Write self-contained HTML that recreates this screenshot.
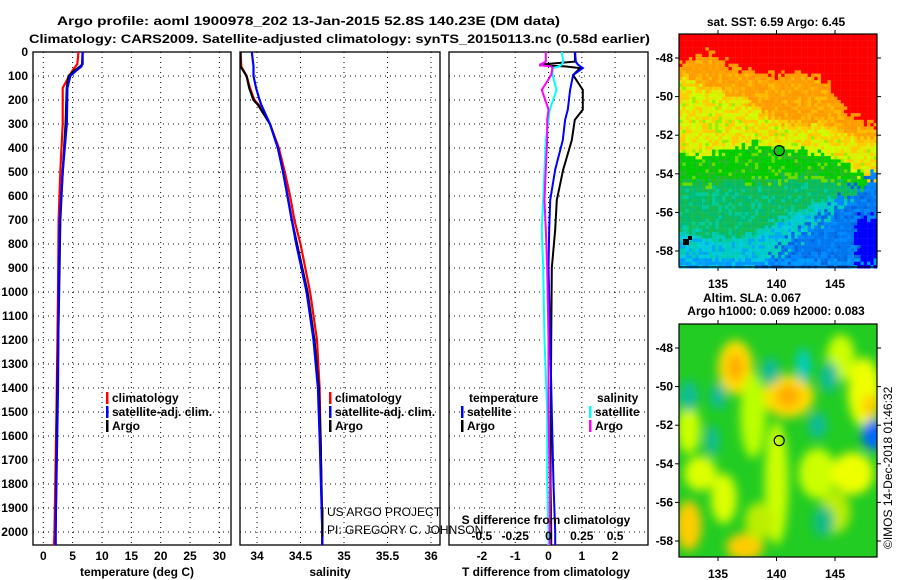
<!DOCTYPE html>
<html><head><meta charset="utf-8"><style>
html,body{margin:0;padding:0;background:#fff;}
svg{display:block;font-family:"Liberation Sans",sans-serif;}
.b{font-weight:bold;font-size:12px;}
</style></head><body>
<svg id="s" width="900" height="580" viewBox="0 0 900 580" xmlns="http://www.w3.org/2000/svg">
<defs>
<filter id="blur" x="-50%" y="-50%" width="200%" height="200%"><feGaussianBlur stdDeviation="5"/></filter>
<clipPath id="clipMap2"><rect x="679" y="324" width="198" height="233"/></clipPath>
<clipPath id="clipP1"><rect x="33" y="52" width="198" height="493"/></clipPath>
<clipPath id="clipP2"><rect x="240" y="52" width="200" height="493"/></clipPath>
<clipPath id="clipP3"><rect x="449" y="52" width="199" height="493"/></clipPath>
</defs>
<text x="57" y="25" class="b" font-size="14" textLength="503" lengthAdjust="spacingAndGlyphs">Argo profile: aoml 1900978_202 13-Jan-2015 52.8S 140.23E (DM data)</text>
<text x="29" y="43" class="b" font-size="14" textLength="621" lengthAdjust="spacingAndGlyphs">Climatology: CARS2009. Satellite-adjusted climatology: synTS_20150113.nc (0.58d earlier)</text>
<g id="g"></g>
</svg>
<script>
// ---- data ----
const depthT = [0,50,60,80,100,150,300,500,700,1000,1400,2000,2054];
const tempArgo = [6.7,6.7,6.3,5.2,4.3,4.0,3.8,3.3,2.9,2.7,2.4,2.1,2.1];
const tempClim = [6.0,5.8,5.5,4.9,4.4,3.3,3.3,2.9,2.6,2.5,2.3,1.9,1.8];
const tempSat  = [6.7,6.6,6.5,5.5,4.6,4.1,4.0,3.3,2.8,2.6,2.5,2.1,2.1];
const depthS = [0,60,100,150,200,220,300,400,500,600,700,800,1000,1200,1400,1600,2000,2054];
const salArgo = [33.81,33.81,33.88,33.91,33.96,34.01,34.15,34.24,34.30,34.35,34.40,34.46,34.58,34.66,34.71,34.73,34.75,34.75];
const salClim = [33.81,33.82,33.88,33.92,33.97,34.02,34.15,34.25,34.32,34.38,34.43,34.50,34.61,34.69,34.72,34.73,34.75,34.75];
const salSat  = [33.94,33.96,33.96,33.99,34.03,34.05,34.15,34.24,34.30,34.35,34.40,34.45,34.57,34.65,34.70,34.72,34.75,34.75];
const depthD = [0,40,52,56,60,67,96,158,240,283,367,490,617,740,900,1200,1500,1800,2000,2054];
const dTArgo = [0.79,0.80,-0.25,-0.25,0.5,0.95,0.74,1.03,1.03,0.79,0.70,0.44,0.25,0.20,0.10,0.08,0.07,0.06,0.08,0.08];
const dTSat  = [0.80,0.82,0.88,0.92,0.95,1.03,0.74,0.65,0.58,0.50,0.43,0.20,0.05,0.02,0.0,0.05,0.10,0.15,0.20,0.20];
const dSSat  = [0.10,0.11,0.10,0.09,0.08,0.03,0.03,0.06,0.01,0.0,-0.02,-0.03,-0.04,-0.05,-0.04,-0.03,-0.01,-0.01,0.0,0.0];
const dSArgo = [-0.02,-0.02,-0.06,-0.06,0.02,0.03,0.02,-0.05,0.0,-0.01,-0.01,-0.02,-0.03,-0.02,-0.01,0.0,0.0,0.01,0.01,0.01];
const depthTicks = [0,100,200,300,400,500,600,700,800,900,1000,1100,1200,1300,1400,1500,1600,1700,1800,1900,2000];
const tTicks = [0,5,10,15,20,25,30];
const sTicks = [34,34.5,35,35.5,36];
const sTickLabels = ["34","34.5","35","35.5","36"];
const dTTicks = [-2,-1,0,1,2];
const dSTicks = [-0.5,-0.25,0,0.25,0.5];
const lonTicks = [135,140,145];
const latTicks = [-48,-50,-52,-54,-56,-58];
const floatLon = 140.23, floatLat = -52.8;

// ---- axes ----
const yD = d => 52 + d*0.24;
const xT = t => 43.3 + t*5.87;
const xS = s => 257 + (s-34)*87;
const xdT = v => 548.5 + v*33.3;
const xdS = v => 548.5 + v*133.2;
const lonX = l => 718 + (l-135)*11.7;
const latY1 = l => 58 + (-48-l)*19.3;
const latY2 = l => 348 + (-48-l)*19.3;

const NS="http://www.w3.org/2000/svg";
const G=document.getElementById('g');
function mk(tag,attrs,parent){const e=document.createElementNS(NS,tag);for(const k in attrs)e.setAttribute(k,attrs[k]);(parent||G).appendChild(e);return e;}
function txt(x,y,s,anchor,parent,cls){const e=mk('text',{x:x,y:y,'text-anchor':anchor||'start',class:cls||'b'},parent);e.textContent=s;return e;}

function panel(name,x0,x1,xs,ticks,labels,xlabel,xlabelX){
  const g=mk('g',{});
  
  
  depthTicks.forEach(d=>{mk('line',{x1:x0,x2:x1,y1:yD(d),y2:yD(d),stroke:'#000','stroke-width':1,'stroke-dasharray':'1,4'},g);});
  ticks.forEach((t,i)=>{
    mk('line',{x1:xs(t),x2:xs(t),y1:52,y2:545,stroke:'#000','stroke-width':1,'stroke-dasharray':'1,4'},g);
    if(labels){const e=txt(xs(t),560,labels[i],'middle',g);}
  });
  mk('rect',{x:x0,y:52,width:x1-x0,height:493,fill:'none',stroke:'#000','stroke-width':1.3},g);
  const xl=txt(xlabelX,576,xlabel,'middle',g);
  
  
  return g;
}
const p1=panel('temperature-panel',33,231,xT,tTicks,tTicks.map(String),'temperature (deg C)',137);
const p2=panel('salinity-panel',240,440,xS,sTicks,sTickLabels,'salinity',330);
const p3=panel('difference-panel',449,648,xdT,dTTicks,dTTicks.map(String),'T difference from climatology',546);
depthTicks.forEach(d=>{const e=txt(28,yD(d)+4,String(d),'end');
  
  });
dSTicks.forEach(v=>{const e=txt(xdS(v),540,String(v),'middle');
  
  });
const sdt=txt(546,524,'S difference from climatology','middle');



function line(par,clip,xs,vals,depths,color,name,w){
  const pts=vals.map((v,i)=>xs(v).toFixed(1)+','+yD(depths[i]).toFixed(1)).join(' ');
  const e=mk('polyline',{points:pts,fill:'none',stroke:color,'stroke-width':w||2.2,'clip-path':'url(#'+clip+')'},par);
  
  
}
line(p1,'clipP1',xT,tempClim,depthT,'#ff0000','temp-climatology-line');
line(p1,'clipP1',xT,tempArgo,depthT,'#000000','temp-argo-line');
line(p1,'clipP1',xT,tempSat,depthT,'#0000ff','temp-satellite-line');
line(p2,'clipP2',xS,salClim,depthS,'#ff0000','sal-climatology-line');
line(p2,'clipP2',xS,salArgo,depthS,'#000000','sal-argo-line');
line(p2,'clipP2',xS,salSat,depthS,'#0000ff','sal-satellite-line');
line(p3,'clipP3',xdT,dTArgo,depthD,'#000000','dt-argo-line',2);
line(p3,'clipP3',xdT,dTSat,depthD,'#0000ff','dt-satellite-line',2);
line(p3,'clipP3',xdS,dSSat,depthD,'#00ffff','ds-satellite-line',2);
line(p3,'clipP3',xdS,dSArgo,depthD,'#ff00ff','ds-argo-line',2);

function legend(x,y,items){
  items.forEach((it,i)=>{
    const yy=y+i*14;
    if(it[1]) mk('rect',{x:x,y:yy-10,width:2.5,height:12,fill:it[1]});
    const e=txt(x+(it[1]?6:8),yy,it[0],'start');
    
    
  });
}
legend(106,402,[['climatology','#ff0000'],['satellite-adj. clim.','#0000ff'],['Argo','#000']]);
legend(329,402,[['climatology','#ff0000'],['satellite-adj. clim.','#0000ff'],['Argo','#000']]);
legend(461,402,[['temperature',null],['satellite','#0000ff'],['Argo','#000']]);
legend(589,402,[['salinity',null],['satellite','#00ffff'],['Argo','#ff00ff']]);
[['US ARGO PROJECT',516],['PI: GREGORY C. JOHNSON',534]].forEach(a=>{
  const e=mk('text',{x:327,y:a[1],'font-size':12,fill:'#000'});e.textContent=a[0];
  
  
});
mk('rect',{x:322,y:507,width:1.5,height:30,fill:'#000'});

// ---- SST map ----
function interp(arr,lon){const L=[132,134,136,138,140,142,144,146,148.6];
  if(lon<=L[0])return arr[0];for(let i=1;i<L.length;i++){if(lon<=L[i]){const f=(lon-L[i-1])/(L[i]-L[i-1]);return arr[i-1]+f*(arr[i]-arr[i-1]);}}return arr[arr.length-1];}
const redB=[-48.2,-47.7,-48.3,-48.8,-48.9,-48.6,-49,-50.8,-51.5];
const orB=[-49,-49.5,-49.8,-50.5,-51.3,-51.5,-51.5,-52,-52.3];
const yeB=[-53,-53,-52.8,-52.5,-52.7,-52.8,-53,-53.5,-55];
const grB=[-54.5,-54.5,-54.3,-54.5,-54.3,-54.2,-54.3,-54.5,-55.3];
const teB=[-57,-57.3,-57.5,-57.2,-56.5,-56,-55.5,-55.4,-55.4];
function hash(i,j){let h=(i*374761393+j*668265263)^0x5bd1e995;h=(h^(h>>>13))*1274126177;h=h^(h>>>16);return ((h>>>0)%1000)/1000;}
const m1=mk('g',{});


const cs=3.3;
for(let i=0;i<60;i++){for(let j=0;j<71;j++){
  const x=679+i*cs, y=34+j*cs;
  const lon=135+(x+cs/2-718)/11.7, lat=-48-(y+cs/2-58)/19.3;
  const r=hash(i,j), n=(r-0.5)*0.6;
  let c;
  if(lat+n>interp(redB,lon)) c='#ff0000';
  else if(lat+n>interp(orB,lon)) c=r<0.5?'#ff9900':(r<0.8?'#ffa500':'#ffbb00');
  else if(lat+n>interp(yeB,lon)) c=r<0.35?'#ffcc00':(r<0.7?'#ddee00':(r<0.9?'#ccff00':'#99ee00'));
  else if(lat+n>interp(grB,lon)) c=r<0.6?'#00cc00':(r<0.85?'#22bb22':'#66dd00');
  else if(lat+n>interp(teB,lon)) c=r<0.5?'#11bb55':(r<0.8?'#00bb77':'#00cc99');
  else c=r<0.4?'#00ccbb':(r<0.7?'#00ccdd':'#00aaee');
  const bx=(lon-144.5)*0.5-(lat+55.3)+n*2;
  if(bx>0.6) c=r<0.5?'#0077ee':(r<0.8?'#0088ff':'#0066dd');
  if(lon>146.8+n&&lat+n<-56.3) c='#0000ff';
  if(lat<-58.4&&r<0.4) c='#0099ff';
  mk('rect',{x:x.toFixed(1),y:y.toFixed(1),width:cs+0.2,height:cs+0.2,fill:c},m1);
}}
mk('rect',{x:680,y:274,width:200,height:10,fill:'#fff'});
mk('rect',{x:683,y:239,width:6,height:6,fill:'#000'},m1);
mk('rect',{x:688,y:236,width:4,height:4,fill:'#000'},m1);
// ---- SLA map ----
const m2=mk('g',{'clip-path':'url(#clipMap2)'});


mk('rect',{x:679,y:324,width:198,height:233,fill:'#22cc22'},m2);
const bl=mk('g',{filter:'url(#blur)'},m2);
const blobs=[[136.5,-49,1.5,1.4,'#ffdd00'],[136.5,-49,0.7,0.7,'#ffaa00'],[141,-50.5,2.2,1.1,'#ffdd00'],[141,-50.5,1.0,0.6,'#ffaa00'],[147.5,-50.3,1.4,1.8,'#eeff00'],[148,-51,0.7,0.6,'#ffcc00'],[132.5,-57.2,1.1,1.3,'#ffcc00'],[137.3,-58.3,1.6,0.7,'#ffcc00'],[140,-55,1.0,3.2,'#ccff00'],[138,-51.5,1.1,2.2,'#bbff00'],[133.5,-54.5,1.4,0.9,'#ddff00'],[143.5,-54.5,1.6,1.3,'#ccff00'],[146.5,-54.5,1.8,1.1,'#eeff00'],[145,-56.5,1.3,1.1,'#bbee00'],[135.5,-55.8,1.1,1.3,'#ddff00'],[132.5,-52.2,1.0,1.3,'#ccff00'],[145.5,-48.5,1.2,1.2,'#ccff00'],[138.5,-57,1.2,1,'#bbee00'],[142.3,-48.9,0.6,0.9,'#00cccc'],[132.5,-50.5,0.8,0.8,'#11bb99'],[134.5,-52.8,0.6,0.8,'#11bb99'],[143.5,-52,0.8,0.7,'#11bb99'],[148.3,-52.5,1,0.8,'#0066ff'],[139.5,-49.2,0.8,0.7,'#11bb99'],[144.5,-49.5,0.8,0.8,'#11bb99'],[144,-57,0.9,0.8,'#11bb88'],[135,-50.5,0.7,0.7,'#11bb99']];
blobs.forEach(b=>{mk('ellipse',{cx:lonX(b[0]),cy:latY2(b[1]),rx:b[2]*11.7,ry:b[3]*19.3,fill:b[4]},bl);});

function mapFrame(top,latY,name){
  const g=mk('g',{});
  
  
  mk('rect',{x:679,y:top,width:198,height:233,fill:'none',stroke:'#000','stroke-width':1.2},g);
  latTicks.forEach(l=>{const y=latY(l);mk('line',{x1:679,x2:675,y1:y,y2:y,stroke:'#000'},g);mk('line',{x1:877,x2:881,y1:y,y2:y,stroke:'#000'},g);
    const e=txt(673,y+4,String(l),'end',g);});
  lonTicks.forEach(l=>{const x=lonX(l);mk('line',{x1:x,x2:x,y1:top,y2:top-4,stroke:'#000'},g);mk('line',{x1:x,x2:x,y1:top+233,y2:top+237,stroke:'#000'},g);
    const e=txt(x,top+254,String(l),'middle',g);});
  const c=mk('circle',{cx:lonX(floatLon),cy:latY(floatLat),r:5,fill:'none',stroke:'#000','stroke-width':1.2},g);
  
  
}
mapFrame(34,latY1,'sst-map-frame');
mapFrame(324,latY2,'sla-map-frame');
[['sat. SST: 6.59 Argo: 6.45',776,26,'sst-map-title'],['Altim. SLA: 0.067',752,302,'sla-map-title'],['Argo h1000: 0.069 h2000: 0.083',776,315,'sla-map-subtitle']].forEach(a=>{
  const e=txt(a[1],a[2],a[0],'middle');
  
  
});
const cr=mk('text',{x:0,y:0,'font-size':12,transform:'translate(892,549) rotate(-90)'});
cr.textContent='©IMOS 14-Dec-2018 01:46:32';


</script>
</body></html>
